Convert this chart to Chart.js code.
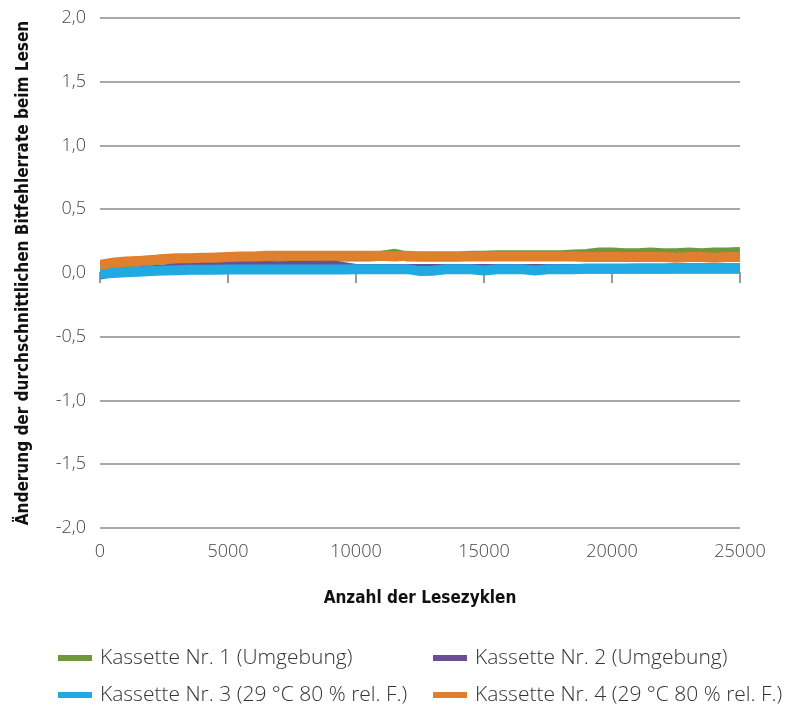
<!DOCTYPE html>
<html lang="de">
<head>
<meta charset="UTF-8">
<script src="https://cdn.jsdelivr.net/npm/chart.js@4.4.1/dist/chart.umd.min.js"></script>
<title>Bitfehlerrate</title>
<style>
  html, body { margin: 0; padding: 0; background: #fff; }
  #wrap { width: 787px; height: 708px; }
</style>
</head>
<body>
<div id="wrap"><canvas id="myChart" width="787" height="708"></canvas></div>
<script>
// read cycles, every 500
const cycles = [];
for (let c = 0; c <= 25000; c += 500) cycles.push(c);

const seriesNames = [
    'Kassette Nr. 1 (Umgebung)',
    'Kassette Nr. 2 (Umgebung)',
    'Kassette Nr. 3 (29 °C 80 % rel. F.)',
    'Kassette Nr. 4 (29 °C 80 % rel. F.)'
];

const kassette1 = [0.06, 0.07, 0.08, 0.09, 0.10, 0.105, 0.11, 0.11, 0.115, 0.12,
    0.12, 0.125, 0.125, 0.125, 0.13, 0.13, 0.13, 0.13, 0.13, 0.13,
    0.13, 0.13, 0.135, 0.15, 0.13, 0.13, 0.13, 0.13, 0.13, 0.135,
    0.135, 0.14, 0.14, 0.14, 0.14, 0.14, 0.14, 0.145, 0.15, 0.16,
    0.16, 0.155, 0.155, 0.16, 0.155, 0.155, 0.16, 0.155, 0.16, 0.16, 0.165];

const kassette2 = [-0.02, 0.0, 0.01, 0.02, 0.03, 0.035, 0.045, 0.05, 0.055, 0.055,
    0.06, 0.06, 0.06, 0.06, 0.06, 0.062, 0.062, 0.065, 0.07, 0.055,
    0.04, 0.04, 0.04, 0.04, 0.04, 0.04, 0.04, 0.04, 0.04, 0.04,
    0.04, 0.04, 0.04, 0.04, 0.04, 0.04, 0.04, 0.04, 0.04, 0.04,
    0.04, 0.04, 0.04, 0.04, 0.04, 0.04, 0.04, 0.04, 0.045, 0.04, 0.04];

const kassette3 = [-0.005, 0.0, 0.005, 0.01, 0.015, 0.02, 0.022, 0.025, 0.025, 0.025,
    0.028, 0.028, 0.028, 0.028, 0.028, 0.028, 0.028, 0.028, 0.028, 0.028,
    0.03, 0.03, 0.03, 0.03, 0.03, 0.015, 0.018, 0.03, 0.03, 0.03,
    0.02, 0.03, 0.03, 0.03, 0.02, 0.03, 0.03, 0.03, 0.035, 0.035,
    0.035, 0.035, 0.038, 0.038, 0.038, 0.04, 0.04, 0.04, 0.04, 0.04, 0.04];

const kassette4 = [0.065, 0.08, 0.09, 0.095, 0.10, 0.11, 0.115, 0.115, 0.12, 0.12,
    0.125, 0.13, 0.13, 0.135, 0.135, 0.135, 0.135, 0.135, 0.135, 0.135,
    0.135, 0.135, 0.135, 0.13, 0.135, 0.13, 0.13, 0.13, 0.13, 0.13,
    0.13, 0.13, 0.13, 0.13, 0.13, 0.13, 0.13, 0.13, 0.125, 0.125,
    0.125, 0.125, 0.125, 0.125, 0.125, 0.12, 0.125, 0.125, 0.12, 0.125, 0.125];

const yTicks = [-2, -1.5, -1, -0.5, 0, 0.5, 1, 1.5, 2];
const xTicks = [0, 5000, 10000, 15000, 20000, 25000];

const colors = ['#6f983c', '#6a4f93', '#21a9e1', '#e07f2e'];

const narrow = '"Liberation Sans Narrow", "DejaVu Sans Condensed", sans-serif';
const plain = '"Open Sans", "Liberation Sans", sans-serif';

const toPoints = vals => vals.map((v, i) => ({ x: cycles[i], y: v }));

// legend in two columns, like the original
const gridLegend = {
    id: 'gridLegend',
    afterDraw(chart) {
        const ctx = chart.ctx;
        ctx.save();
        ctx.font = '300 21px ' + plain;
        ctx.textBaseline = 'middle';
        chart.data.datasets.forEach((ds, i) => {
            const x = 58 + (i % 2) * 375;
            const y = 658 + Math.floor(i / 2) * 37;
            ctx.fillStyle = ds.borderColor;
            ctx.fillRect(x, y - 3, 34, 6);
            ctx.fillStyle = '#333';
            ctx.fillText(ds.label, x + 42, y);
        });
        ctx.restore();
    }
};

const ds = (i, vals, width, order) => ({
    label: seriesNames[i],
    data: toPoints(vals),
    borderColor: colors[i],
    backgroundColor: colors[i],
    borderWidth: width,
    pointRadius: 0,
    tension: 0,
    fill: false,
    order: order
});

new Chart(document.getElementById('myChart'), {
    type: 'line',
    data: {
        datasets: [
            ds(0, kassette1, 10, 4),
            ds(1, kassette2, 8, 3),
            ds(2, kassette3, 10, 2),
            ds(3, kassette4, 10, 1)
        ]
    },
    options: {
        responsive: false,
        animation: false,
        events: [],
        layout: { padding: { left: 0, right: 47, top: 18, bottom: 80 } },
        plugins: { legend: { display: false }, tooltip: { enabled: false } },
        scales: {
            x: {
                type: 'linear',
                position: 'bottom',
                min: 0,
                max: 25000,
                afterBuildTicks: s => { s.ticks = xTicks.map(v => ({ value: v })); },
                afterFit: s => { s.height = 100; },
                grid: { display: false, drawTicks: false },
                border: { display: false },
                ticks: {
                    padding: 13,
                    maxRotation: 0,
                    color: '#444',
                    font: { family: plain, size: 18, weight: '300' },
                    callback: v => String(v)
                },
                title: {
                    display: true,
                    text: 'Anzahl der Lesezyklen',
                    color: '#111',
                    font: { family: narrow, size: 17, weight: 'bold' },
                    padding: { top: 0, bottom: 19 }
                }
            },
            x2: {
                type: 'linear',
                position: { y: 0 },
                min: 0,
                max: 25000,
                afterBuildTicks: s => { s.ticks = xTicks.map(v => ({ value: v })); },
                grid: { drawOnChartArea: false, drawTicks: true, tickLength: 9, color: '#999', lineWidth: 2 },
                border: { display: true, color: '#999', width: 2 },
                ticks: { display: false }
            },
            y: {
                min: -2,
                max: 2,
                afterBuildTicks: s => { s.ticks = yTicks.map(v => ({ value: v })); },
                afterFit: s => {
                    s.width = 100;
                    s.paddingTop = 8;
                    s.paddingBottom = 8;
                },
                grid: { color: '#a8a8a8', lineWidth: 2, drawTicks: false },
                border: { display: false },
                ticks: {
                    padding: 14,
                    color: '#444',
                    font: { family: plain, size: 18, weight: '300' },
                    callback: v => v.toFixed(1).replace('.', ',')
                },
                title: {
                    display: true,
                    text: 'Änderung der durchschnittlichen Bitfehlerrate beim Lesen',
                    color: '#111',
                    font: { family: narrow, size: 17, weight: 'bold' },
                    padding: { top: 13, bottom: 0 }
                }
            }
        }
    },
    plugins: [gridLegend]
});
</script>
</body>
</html>
